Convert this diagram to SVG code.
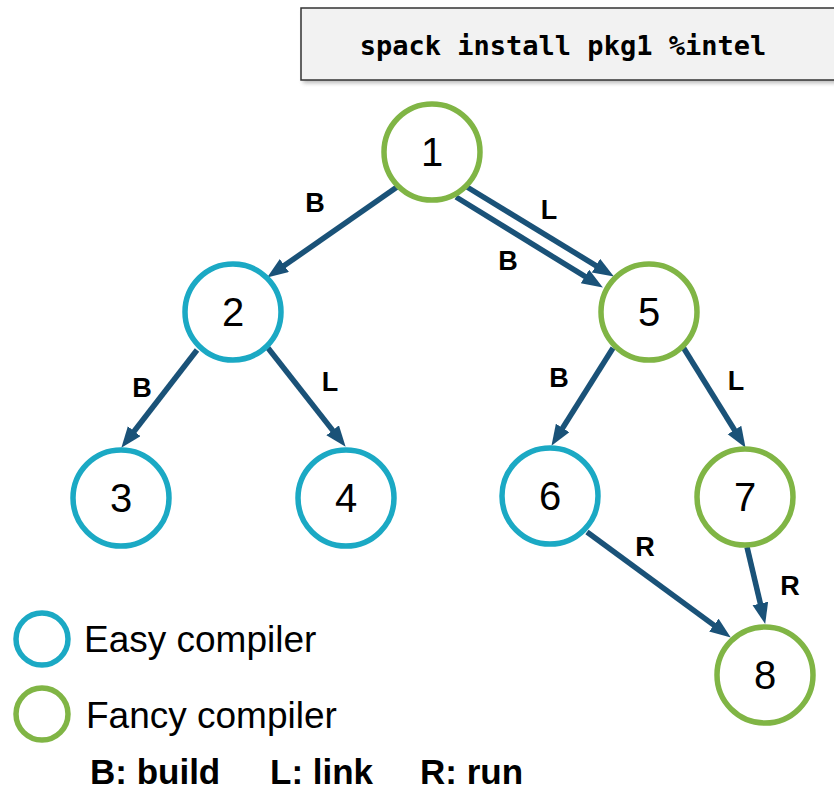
<svg xmlns="http://www.w3.org/2000/svg" width="834" height="791" viewBox="0 0 834 791">
<defs>
<style>
.easy{fill:#fff;stroke:#1BA9C4;stroke-width:5.5}
.fancy{fill:#fff;stroke:#80B545;stroke-width:5.5}
.num{font-family:"Liberation Sans",Arial,sans-serif;font-size:40px;fill:#000;text-anchor:middle}
.edge{stroke:#1A5278;stroke-width:5.5;fill:none;marker-end:url(#ah)}
.lbl{font-family:"Liberation Sans",Arial,sans-serif;font-size:27px;font-weight:bold;fill:#000;text-anchor:middle}
.leg{font-family:"Liberation Sans",Arial,sans-serif;font-size:37px;fill:#000}
.legb{font-family:"Liberation Sans",Arial,sans-serif;font-size:35px;font-weight:bold;fill:#000}
</style>
<marker id="ah" markerUnits="userSpaceOnUse" markerWidth="22" markerHeight="18" refX="8" refY="8" orient="auto">
<path d="M0,0 L21,8 L0,16 z" fill="#1A5278"/>
</marker>
<filter id="sh" x="-5%" y="-20%" width="115%" height="150%">
<feGaussianBlur stdDeviation="2"/>
</filter>
</defs>
<g id="command">
<rect x="303" y="11" width="540" height="72" fill="#888" opacity="0.6" filter="url(#sh)"/>
<rect x="301" y="8" width="540" height="72" fill="#F2F2F2" stroke="#333" stroke-width="1.5"/>
<text x="563" y="55" font-family="DejaVu Sans Mono,Liberation Mono,monospace" font-weight="bold" font-size="27" text-anchor="middle" fill="#000">spack install pkg1 %intel</text>
</g>
<g id="connectors">
<line class="edge" x1="397" y1="187" x2="277.8" y2="270.1"/>
<line class="edge" x1="467" y1="187" x2="602.8" y2="269.8"/>
<line class="edge" x1="456" y1="197" x2="591.8" y2="280.7"/>
<line class="edge" x1="197" y1="350" x2="129.3" y2="437.5"/>
<line class="edge" x1="268" y1="348" x2="337.6" y2="436.6"/>
<line class="edge" x1="613" y1="348" x2="558.4" y2="434.8"/>
<line class="edge" x1="683" y1="347" x2="738.7" y2="436.8"/>
<line class="edge" x1="587" y1="532" x2="720.3" y2="629.9"/>
<line class="edge" x1="747" y1="547" x2="762.2" y2="611.3"/>
<text class="lbl" x="315" y="212">B</text>
<text class="lbl" x="549" y="219">L</text>
<text class="lbl" x="508" y="270">B</text>
<text class="lbl" x="142" y="397">B</text>
<text class="lbl" x="330" y="391">L</text>
<text class="lbl" x="559" y="387">B</text>
<text class="lbl" x="736" y="390">L</text>
<text class="lbl" x="645" y="556">R</text>
<text class="lbl" x="790" y="595">R</text>
</g>
<g id="n1"><circle class="fancy" cx="432" cy="152" r="48"/><text class="num" x="432" y="166">1</text></g>
<g id="n2"><circle class="easy" cx="233" cy="312" r="48"/><text class="num" x="233" y="326">2</text></g>
<g id="n3"><circle class="easy" cx="121" cy="498" r="48"/><text class="num" x="121" y="512">3</text></g>
<g id="n4"><circle class="easy" cx="346" cy="498" r="48"/><text class="num" x="346" y="512">4</text></g>
<g id="n5"><circle class="fancy" cx="649" cy="312" r="48"/><text class="num" x="649" y="326">5</text></g>
<g id="n6"><circle class="easy" cx="550" cy="496" r="48"/><text class="num" x="550" y="510">6</text></g>
<g id="n7"><circle class="fancy" cx="745" cy="497" r="48"/><text class="num" x="745" y="511">7</text></g>
<g id="n8"><circle class="fancy" cx="765" cy="675" r="48"/><text class="num" x="765" y="689">8</text></g>
<g id="legend">
<circle class="easy" cx="42" cy="639" r="26" stroke-width="5"/>
<text class="leg" x="84" y="652">Easy compiler</text>
<circle class="fancy" cx="42" cy="714" r="26" stroke-width="5"/>
<text class="leg" x="86" y="728">Fancy compiler</text>
<text class="legb" y="784"><tspan x="90">B: build</tspan><tspan x="270">L: link</tspan><tspan x="420">R: run</tspan></text>
</g>
</svg>
